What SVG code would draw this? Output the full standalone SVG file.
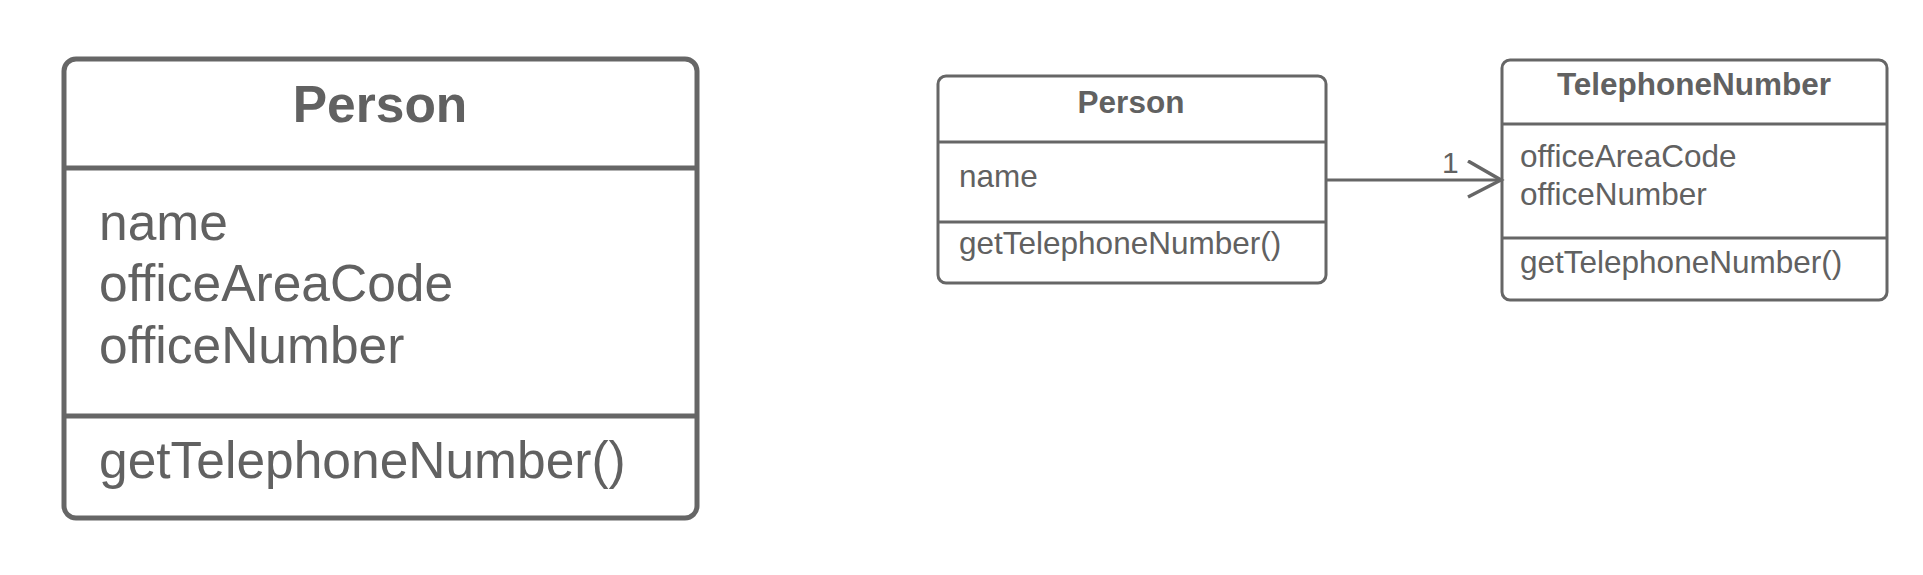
<svg xmlns="http://www.w3.org/2000/svg" width="1923" height="575" viewBox="0 0 1923 575">
<style>
.box{fill:#ffffff;stroke:#666666}
.big{stroke-width:5}
.small{stroke-width:3}
.div{stroke:#666666}
text{font-family:"Liberation Sans",Arial,sans-serif;fill:#616161}
.tb{font-weight:bold;text-anchor:middle}
.L{font-size:51.5px}
.S{font-size:31.5px}
.conn{stroke:#666666;stroke-width:3;fill:none}
</style>
<defs>
<marker id="open" markerUnits="userSpaceOnUse" markerWidth="40" markerHeight="44" refX="35" refY="20" orient="auto" viewBox="0 0 40 44">
<path d="M2,1 L35,20 L2,37" fill="none" stroke="#666666" stroke-width="3.5"/>
</marker>
</defs>
<rect width="1923" height="575" fill="#ffffff"/>
<g id="person-large">
<rect class="box big" x="64" y="59" width="633" height="459" rx="12"/>
<line class="div" stroke-width="5" x1="64" y1="168" x2="697" y2="168"/>
<line class="div" stroke-width="5" x1="64" y1="416" x2="697" y2="416"/>
<text class="tb L" x="380" y="122">Person</text>
<text class="L" x="99" y="240">name</text>
<text class="L" x="99" y="301">officeAreaCode</text>
<text class="L" x="99" y="363">officeNumber</text>
<text class="L" x="99" y="478">getTelephoneNumber()</text>
</g>
<g id="person-small">
<rect class="box small" x="938" y="76" width="388" height="207" rx="8"/>
<line class="div" stroke-width="3" x1="938" y1="142" x2="1326" y2="142"/>
<line class="div" stroke-width="3" x1="938" y1="222" x2="1326" y2="222"/>
<text class="tb S" x="1131" y="113">Person</text>
<text class="S" x="959" y="187">name</text>
<text class="S" x="959" y="254">getTelephoneNumber()</text>
</g>
<g id="telephone-number">
<rect class="box small" x="1502" y="60" width="385" height="240" rx="8"/>
<line class="div" stroke-width="3" x1="1502" y1="124" x2="1887" y2="124"/>
<line class="div" stroke-width="3" x1="1502" y1="238" x2="1887" y2="238"/>
<text class="tb S" x="1694" y="95">TelephoneNumber</text>
<text class="S" x="1520" y="167">officeAreaCode</text>
<text class="S" x="1520" y="205">officeNumber</text>
<text class="S" x="1520" y="273">getTelephoneNumber()</text>
</g>
<g id="connectors">
<line class="conn" x1="1327" y1="180" x2="1501" y2="180" marker-end="url(#open)"/>
<text x="1442" y="173" font-size="30">1</text>
</g>
</svg>
